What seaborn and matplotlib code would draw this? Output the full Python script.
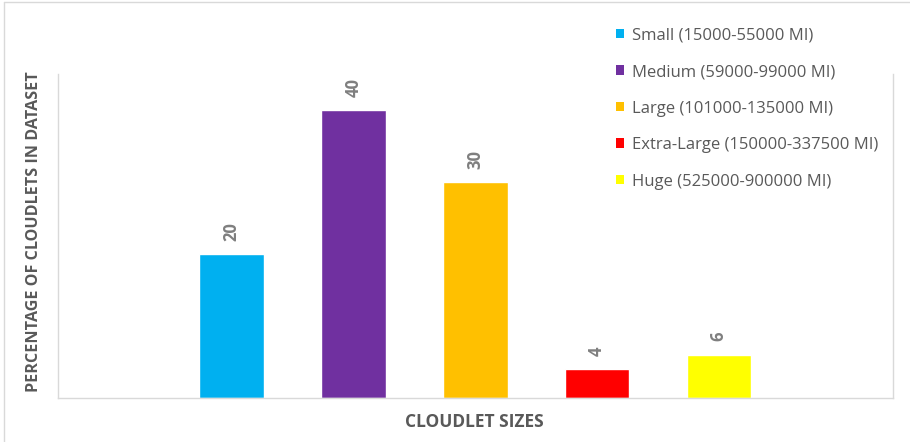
import matplotlib
matplotlib.use("Agg")
import matplotlib.pyplot as plt
import seaborn as sns
import pandas as pd
from matplotlib.lines import Line2D
from matplotlib.patches import Patch

# Cloudlet size classes and their share of the dataset (%)
categories = [
    "Small (15000-55000 MI)",
    "Medium (59000-99000 MI)",
    "Large (101000-135000 MI)",
    "Extra-Large (150000-337500 MI)",
    "Huge (525000-900000 MI)",
]
percentages = [20, 40, 30, 4, 6]
colors = ["#00B0F0", "#7030A0", "#FFC000", "#FF0000", "#FFFF00"]

df = pd.DataFrame({"size": categories, "pct": percentages})

sns.set_theme(style="white")
plt.rcParams["font.family"] = ["Open Sans", "DejaVu Sans"]

fig = plt.figure(figsize=(9.10, 4.42), dpi=100)
W, H = 910, 442
ax = fig.add_axes([57.5 / W, 1 - 397.7 / H, (893 - 57.5) / W, (397.7 - 74) / H])

sns.barplot(data=df, x="size", y="pct", hue="size", palette=colors,
            width=0.53, legend=False, ax=ax, saturation=1)

ax.set_ylim(0, 45)
ax.set_xlim(-1.43, 5.43)
ax.set_xticks([])
ax.set_yticks([])
ax.set_xlabel("")
ax.set_ylabel("")

for side in ["left", "right", "bottom"]:
    ax.spines[side].set_visible(True)
    ax.spines[side].set_color("#D9D9D9")
    ax.spines[side].set_linewidth(1.0)
ax.spines["top"].set_visible(False)

# Value labels above each bar, rotated
for container in ax.containers:
    ax.bar_label(container, fmt="%d", rotation=90, padding=9.5,
                 color="#7F7F7F", fontsize=12, fontweight="bold")

# Axis titles
fig.text(34 / W, 1 - 232 / H, "PERCENTAGE OF CLOUDLETS IN DATASET",
         rotation=90, ha="center", va="center", fontsize=11.6,
         fontweight="bold", color="#595959")
fig.text(474 / W, 1 - 422 / H, "CLOUDLET SIZES",
         ha="center", va="center", fontsize=12.5, fontweight="bold",
         color="#595959")

# Legend at the upper right
handles = [Patch(facecolor=c, edgecolor="none") for c in colors]
leg = fig.legend(handles, categories, loc="upper left",
                 bbox_to_anchor=(609 / W, 1 - 21 / H), frameon=False,
                 fontsize=12, labelcolor="#595959", handlelength=0.5,
                 handleheight=0.5, handletextpad=0.45, labelspacing=1.23,
                 borderaxespad=0)

# Outer chart border (left and top edges)
fig.add_artist(Line2D([4.3 / W, 4.3 / W], [0, 1 - 2.3 / H],
                      transform=fig.transFigure, color="#D9D9D9", lw=1))
fig.add_artist(Line2D([4.3 / W, 1], [1 - 2.3 / H, 1 - 2.3 / H],
                      transform=fig.transFigure, color="#D9D9D9", lw=1))

fig.savefig("out.png", dpi=100, facecolor="white")
